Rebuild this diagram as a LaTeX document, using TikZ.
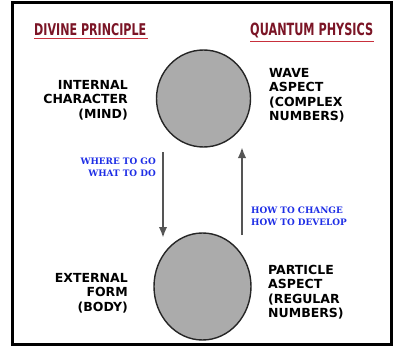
\documentclass[tikz,border=0pt]{standalone}
\usepackage{fontspec}
\usepackage{graphicx}
\usetikzlibrary{shapes.geometric,arrows.meta}
\setmainfont{DejaVu Sans}
\newfontfamily\lblfont{DejaVu Sans Bold}
\newfontfamily\bluefont{DejaVu Serif Bold}
\newfontfamily\titlefont{DejaVu Sans Bold}
\definecolor{titlered}{HTML}{7B1526}
\definecolor{linered}{HTML}{C8303C}
\definecolor{bluetxt}{HTML}{1E2EE6}
\definecolor{ballgray}{HTML}{ABABAB}
\definecolor{arrgray}{HTML}{555555}
\tikzset{
  lbl/.style={inner sep=0pt, font=\lblfont\fontsize{12.5}{14.5}\selectfont},
  bluelbl/.style={inner sep=0pt, text=bluetxt, font=\bluefont\fontsize{8.9}{12}\selectfont},
  ttl/.style={inner sep=0pt, text=titlered, font=\titlefont\fontsize{16.5}{18}\selectfont},
  ttlline/.style={draw=linered, line width=1.4pt},
  ball/.style={ellipse, draw=black!85, line width=1.4pt, fill=ballgray, inner sep=0pt},
  flow/.style={draw=arrgray, line width=2.4pt, -{Latex[length=11pt,width=8.5pt]}}
}
\begin{document}
\begin{tikzpicture}[x=1pt,y=-1pt]
\useasboundingbox (0,0) rectangle (394,348);
\fill[white] (0,0) rectangle (394,348);
\draw[line width=3pt] (12.5,2.5) rectangle (391.5,344.5);

\node[ttl, anchor=north west] (dp) at (34,23) {\resizebox{112pt}{12pt}{DIVINE PRINCIPLE}};
\node[ttl, anchor=north west] (qp) at (250,23) {\resizebox{123pt}{12.5pt}{QUANTUM PHYSICS}};
\draw[ttlline] ([yshift=-3pt]dp.south west) -- ([yshift=-3pt,xshift=2pt]dp.south east);
\draw[ttlline] ([yshift=-3pt]qp.south west) -- ([yshift=-3pt,xshift=1pt]qp.south east);

\node[ball, minimum width=94pt, minimum height=97pt] (top) at (203.5,98.5) {};
\node[ball, minimum width=97pt, minimum height=107pt] (bot) at (202.5,286.5) {};

\node[lbl, anchor=north east, align=right] (ic) at (128,80) {INTERNAL\\CHARACTER\\(MIND)};
\node[lbl, anchor=north west, align=left] (wa) at (269,68) {WAVE\\ASPECT\\(COMPLEX\\NUMBERS)};
\node[lbl, anchor=north east, align=right] (ef) at (128,273) {EXTERNAL\\FORM\\(BODY)};
\node[lbl, anchor=north west, align=left] (pa) at (268,265) {PARTICLE\\ASPECT\\(REGULAR\\NUMBERS)};

\node[bluelbl, anchor=north east, align=right] (wg) at (156,158) {WHERE TO GO\\WHAT TO DO};
\node[bluelbl, anchor=north west, align=left] (hc) at (251,207) {HOW TO CHANGE\\HOW TO DEVELOP};

\coordinate (d1) at (163,152);
\coordinate (d2) at (163,238);
\coordinate (u1) at (242,235);
\coordinate (u2) at (242,147);
\draw[flow] (d1) -- (d2);
\draw[flow] (u1) -- (u2);
\end{tikzpicture}
\end{document}
